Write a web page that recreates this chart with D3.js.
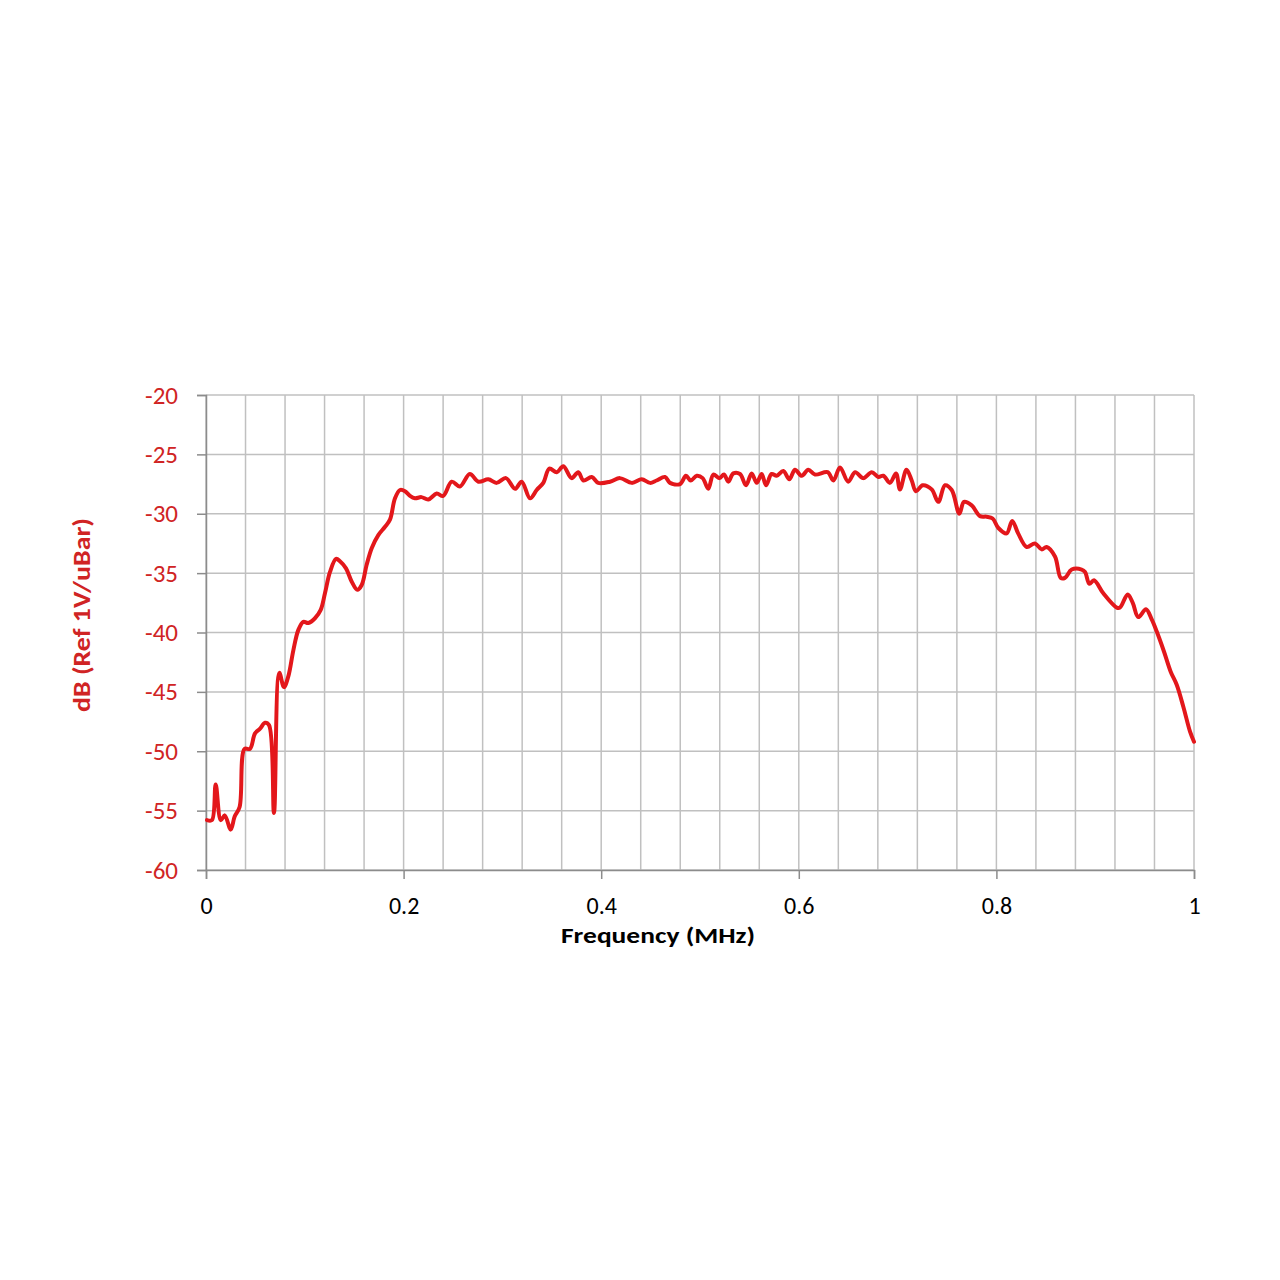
<!DOCTYPE html>
<html>
<head>
<meta charset="utf-8">
<script src="https://cdn.jsdelivr.net/npm/d3@7"></script>
<style>
  html, body { margin: 0; padding: 0; background: #ffffff; }
  svg { display: block; }
</style>
</head>
<body>
<svg id="chart" width="1280" height="1280"></svg>
<script>
// ---- data ----
const freqMHz = [0.001,0.006,0.0098,0.015,0.019,0.025,0.029,0.034,0.039,0.0445,
  0.0496,0.0547,0.0597,0.0638,0.0688,0.0742,0.0789,0.0833,0.0884,0.0934,
  0.0985,0.1036,0.1103,0.1161,0.1204,0.1255,0.1316,0.1356,0.1417,0.1474,
  0.1532,0.1576,0.1626,0.1677,0.1744,0.1812,0.1862,0.1913,0.1964,0.2014,
  0.2065,0.2115,0.218,0.225,0.2335,0.240,0.2487,0.257,0.267,0.2757,
  0.2857,0.2942,0.3036,0.3128,0.3195,0.328,0.3347,0.3414,0.3475,0.355,
  0.3617,0.370,0.3768,0.382,0.3904,0.397,0.4089,0.419,0.431,0.441,
  0.4494,0.456,0.4646,0.4696,0.4798,0.4858,0.4906,0.4967,0.5027,0.5084,
  0.5135,0.5196,0.5243,0.5287,0.5337,0.5405,0.5466,0.5523,0.5574,0.5624,
  0.5668,0.5725,0.5776,0.5843,0.5904,0.5961,0.603,0.6096,0.6164,0.6292,
  0.635,0.6417,0.650,0.657,0.6653,0.6738,0.6805,0.6856,0.6923,0.6984,
  0.7024,0.709,0.7143,0.7186,0.7254,0.7345,0.7412,0.748,0.7548,0.7625,
  0.7672,0.775,0.7834,0.7901,0.7962,0.802,0.8104,0.816,0.822,0.8307,
  0.839,0.8458,0.8508,0.8593,0.8651,0.8694,0.8762,0.8863,0.8897,0.8941,
  0.8988,0.9082,0.9218,0.9251,0.9329,0.938,0.9436,0.9514,0.9572,0.9622,
  0.9696,0.9764,0.9825,0.9892,0.996,1.0];

const dB = [-55.8,-55.8,-52.8,-55.8,-55.4,-56.6,-55.5,-54.7,-49.8,-49.8,
  -48.5,-48.1,-47.6,-47.8,-55.2,-43.4,-44.6,-43.7,-41.5,-39.8,
  -39.1,-39.2,-38.8,-38.1,-36.7,-34.9,-33.8,-34.0,-34.6,-35.7,
  -36.4,-36.0,-34.3,-32.9,-31.8,-31.1,-30.5,-28.7,-28.0,-28.1,
  -28.5,-28.7,-28.6,-28.8,-28.3,-28.5,-27.3,-27.7,-26.65,-27.3,
  -27.1,-27.4,-27.0,-27.9,-27.3,-28.7,-28.0,-27.4,-26.2,-26.5,
  -26.0,-27.0,-26.5,-27.2,-26.9,-27.4,-27.3,-27.0,-27.4,-27.1,
  -27.4,-27.2,-26.9,-27.4,-27.5,-26.8,-27.2,-26.8,-27.0,-27.9,
  -26.7,-27.0,-26.7,-27.3,-26.6,-26.65,-27.6,-26.6,-27.4,-26.65,
  -27.6,-26.65,-26.8,-26.4,-27.1,-26.3,-26.8,-26.3,-26.7,-26.5,
  -27.2,-26.1,-27.3,-26.5,-27.0,-26.5,-26.9,-26.8,-27.4,-26.6,
  -27.95,-26.3,-27.2,-28.1,-27.6,-27.95,-29.0,-27.6,-28.0,-30.0,
  -29.0,-29.3,-30.2,-30.25,-30.4,-31.2,-31.65,-30.6,-31.65,-32.8,
  -32.5,-33.0,-32.8,-33.6,-35.4,-35.4,-34.7,-34.7,-34.9,-35.9,
  -35.6,-36.7,-37.9,-37.9,-36.8,-37.5,-38.7,-38.05,-38.9,-39.9,
  -41.6,-43.3,-44.4,-46.25,-48.35,-49.2];

const xTickValues = [0, 0.2, 0.4, 0.6, 0.8, 1];
const xTickLabels = ["0", "0.2", "0.4", "0.6", "0.8", "1"];
const xGridValues = d3.range(0, 26).map(i => i * 0.04);
const yTickValues = [-20, -25, -30, -35, -40, -45, -50, -55, -60];
const yTickLabels = ["-20", "-25", "-30", "-35", "-40", "-45", "-50", "-55", "-60"];
const xTitle = "Frequency (MHz)";
const yTitle = "dB (Ref 1V/uBar)";

// ---- layout ----
const svg = d3.select("#chart");
const mLeft = 206, mRight = 1194, mTop = 395, mBottom = 870;
const font = "Carlito, Calibri, Lato, 'Open Sans', sans-serif";

const x = d3.scaleLinear().domain([0, 1]).range([mLeft, mRight]);
const y = d3.scaleLinear().domain([-60, -20]).range([mBottom, mTop]);

const gridColor = "#c0c0c0";
const axisColor = "#8c8c8c";
const redText = "#d02424";

// vertical gridlines
svg.append("g").selectAll("line").data(xGridValues).join("line")
  .attr("x1", d => x(d)).attr("x2", d => x(d))
  .attr("y1", mTop).attr("y2", mBottom)
  .attr("stroke", gridColor).attr("stroke-width", 1.5);

// horizontal gridlines
svg.append("g").selectAll("line").data(yTickValues).join("line")
  .attr("x1", mLeft).attr("x2", mRight)
  .attr("y1", d => y(d)).attr("y2", d => y(d))
  .attr("stroke", gridColor).attr("stroke-width", 1.5);

// y axis
const yAxis = d3.axisLeft(y).tickValues(yTickValues).tickSize(9).tickPadding(19)
  .tickFormat((d, i) => yTickLabels[i]);
const gy = svg.append("g").attr("transform", `translate(${mLeft},0)`).call(yAxis);
gy.select(".domain").attr("stroke", axisColor).attr("stroke-width", 1.5);
gy.selectAll(".tick line").attr("stroke", axisColor).attr("stroke-width", 1.5);
gy.selectAll(".tick text").attr("fill", redText)
  .style("font-family", font).style("font-size", "25px");

// x axis
const xAxis = d3.axisBottom(x).tickValues(xTickValues).tickSize(9).tickPadding(18)
  .tickFormat((d, i) => xTickLabels[i]);
const gx = svg.append("g").attr("transform", `translate(0,${mBottom})`).call(xAxis);
gx.select(".domain").attr("stroke", axisColor).attr("stroke-width", 1.5);
gx.selectAll(".tick line").attr("stroke", axisColor).attr("stroke-width", 1.5);
gx.selectAll(".tick text").attr("fill", "#000")
  .style("font-family", font).style("font-size", "24px");

// line
const pts = freqMHz.map((f, i) => [f, dB[i]]);
const line = d3.line().x(d => x(d[0])).y(d => y(d[1])).curve(d3.curveCatmullRom.alpha(0.5));
svg.append("path").datum(pts)
  .attr("d", line)
  .attr("fill", "none")
  .attr("stroke", "#e3171b")
  .attr("stroke-width", 4)
  .attr("stroke-linejoin", "round")
  .attr("stroke-linecap", "round");

// titles
svg.append("text")
  .attr("x", 658).attr("y", 943)
  .attr("text-anchor", "middle")
  .attr("textLength", 194).attr("lengthAdjust", "spacingAndGlyphs")
  .style("font-family", font).style("font-size", "22px").style("font-weight", "bold")
  .attr("fill", "#000").text(xTitle);

svg.append("text")
  .attr("transform", `translate(90,615) rotate(-90)`)
  .attr("text-anchor", "middle")
  .attr("textLength", 194).attr("lengthAdjust", "spacingAndGlyphs")
  .style("font-family", font).style("font-size", "25px").style("font-weight", "bold")
  .attr("fill", redText).text(yTitle);
</script>
</body>
</html>
